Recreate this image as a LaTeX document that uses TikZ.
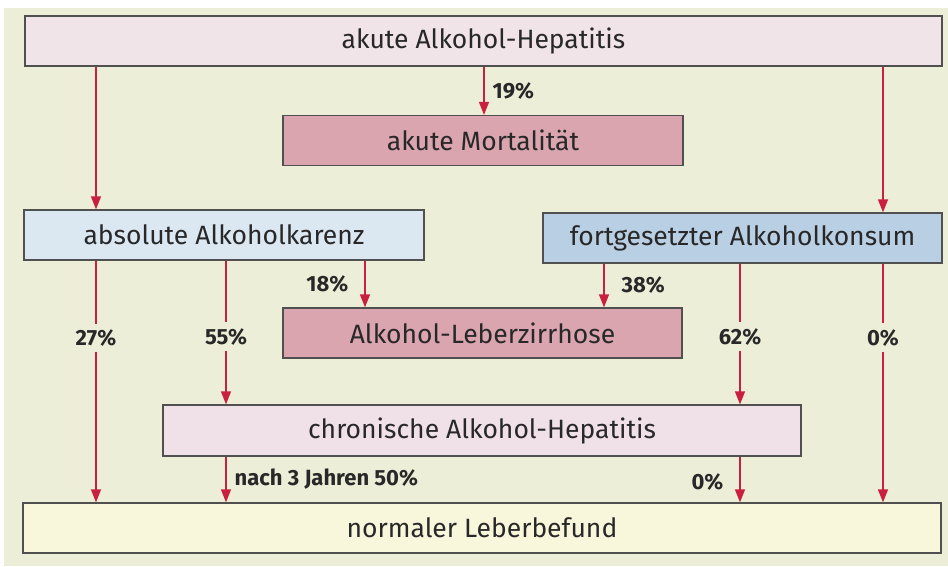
\documentclass[tikz,border=0pt]{standalone}
\usepackage{fontspec}
\setmainfont{Fira Sans}
\usetikzlibrary{arrows.meta}
\definecolor{bg}{RGB}{236,238,216}
\definecolor{boxline}{RGB}{80,80,80}
\definecolor{textgray}{RGB}{40,40,40}
\definecolor{arrred}{RGB}{200,32,62}
\definecolor{palepink}{RGB}{241,228,233}
\definecolor{rose}{RGB}{218,165,175}
\definecolor{paleblue}{RGB}{219,231,241}
\definecolor{midblue}{RGB}{185,207,228}
\definecolor{lightpink}{RGB}{240,224,232}
\definecolor{paleyellow}{RGB}{248,246,219}

\begin{document}
\begin{tikzpicture}[x=1pt,y=-1pt,
    box/.style={draw=boxline,line width=1.3pt,minimum height=50pt,inner sep=0pt,
      text=textgray,font=\fontsize{26.5}{30}\selectfont},
    arr/.style={draw=arrred,line width=1.3pt,-{Triangle[width=10pt,length=13pt]}},
    pct/.style={text=textgray,inner sep=2pt,font=\bfseries\fontsize{22}{25}\selectfont},
    gap/.style={pct,fill=bg,inner ysep=6pt}]
      \useasboundingbox (0,0) rectangle (948,566);
      \fill[white] (0,0) rectangle (948,566);
      \fill[bg] (4,8) rectangle (948,566);

      \node[box,fill=palepink,minimum width=917pt] (akut) at (483.5,41) {akute Alkohol-Hepatitis};
      \node[box,fill=rose,minimum width=400pt] (mort) at (483,140.5) {akute Mortalität};
      \node[box,fill=paleblue,minimum width=400pt] (karenz) at (224,235) {absolute Alkoholkarenz};
      \node[box,fill=midblue,minimum width=399pt] (konsum) at (742.5,238) {fortgesetzter Alkoholkonsum};
      \node[box,fill=rose,minimum width=399pt] (zirr) at (482.5,333) {Alkohol-Leberzirrhose};
      \node[box,fill=lightpink,minimum width=638pt,minimum height=51pt] (chron) at (482,430.5) {chronische Alkohol-Hepatitis};
      \node[box,fill=paleyellow,minimum width=918pt] (normal) at (482,528) {normaler Leberbefund};

      % columns of the arrows
      \coordinate (c1) at (96,0);
      \coordinate (c2) at (226,0);
      \coordinate (c3) at (365,0);
      \coordinate (c4) at (484,0);
      \coordinate (c5) at (604,0);
      \coordinate (c6) at (740,0);
      \coordinate (c7) at (883,0);

      \draw[arr] (akut.south -| c4) -- node[pct,right=6pt] {19\%} (mort.north -| c4);
      \draw[arr] (akut.south -| c1) -- (karenz.north -| c1);
      \draw[arr] (akut.south -| c7) -- (konsum.north -| c7);

      \draw[arr] (karenz.south -| c1) -- node[gap,pos=0.32] {27\%} (normal.north -| c1);
      \draw[arr] (karenz.south -| c2) -- node[gap,pos=0.53] {55\%} (chron.north -| c2);
      \draw[arr] (karenz.south -| c3) -- node[pct,left=14pt] {18\%} (zirr.north -| c3);

      \draw[arr] (konsum.south -| c5) -- node[pct,right=15pt] {38\%} (zirr.north -| c5);
      \draw[arr] (konsum.south -| c6) -- node[gap,pos=0.52] {62\%} (chron.north -| c6);
      \draw[arr] (konsum.south -| c7) -- node[gap,pos=0.31] {0\%} (normal.north -| c7);

      \draw[arr] (chron.south -| c2) -- node[pct,right=6pt] {nach 3 Jahren 50\%} (normal.north -| c2);
      \draw[arr] (chron.south -| c6) -- node[pct,left=14pt,yshift=-3pt] {0\%} (normal.north -| c6);
    \end{tikzpicture}
\end{document}
